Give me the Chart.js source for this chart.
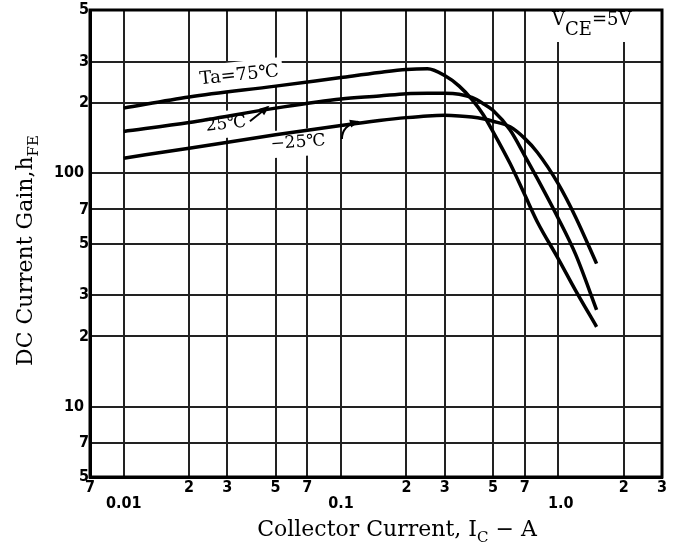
<!DOCTYPE html>
<html>
<head>
<meta charset="utf-8">
<script src="https://cdn.jsdelivr.net/npm/chart.js@4.4.1/dist/chart.umd.min.js"></script>
<style>
  html, body { margin: 0; padding: 0; background: #fff; }
  canvas { display: block; }
</style>
</head>
<body>
<canvas id="chart" width="676" height="547"></canvas>
<script>
// collector current (A) and hFE
const currentA = [0.01, 0.02, 0.05, 0.1, 0.15, 0.2, 0.25, 0.3, 0.35, 0.4, 0.45, 0.5, 0.6, 0.7, 0.8, 1.0, 1.2, 1.5];
const gain75 = [190, 212, 236, 257, 270, 278, 280, 262, 236, 207, 179, 151, 110, 81, 62, 43, 31.5, 22];
const gain25 = [151, 165, 190, 208, 214, 219, 220, 220, 218, 211, 199, 186, 153, 119, 95, 64, 45, 26];
const gainM25 = [116, 128, 146, 160, 168, 173, 176, 177, 176, 174, 171, 167, 158, 141, 123, 90, 65, 41];

const xTickValues = [0.007, 0.01, 0.02, 0.03, 0.05, 0.07, 0.1, 0.2, 0.3, 0.5, 0.7, 1, 2, 3];
const xTickLabels = ["7", ["", "0.01"], "2", "3", "5", "7", ["", "0.1"], "2", "3", "5", "7", ["", " 1.0"], "2", "3"];
const yTickValues = [5, 7, 10, 20, 30, 50, 70, 100, 200, 300, 500];
const yTickLabels = ["5", "7", "10 ", "2", "3", "5", "7", "100 ", "2", "3", "5"];

const SERIF = "'DejaVu Serif', 'Liberation Serif', serif";
const TICK_FONT = {
  family: "'DejaVu Sans Condensed', 'Liberation Sans Narrow', 'Liberation Sans', sans-serif",
  size: 16,
  weight: "bold",
  lineHeight: 1.0,
};

// curve labels, placed in data coordinates
const notes = [
  { text: "Ta=75℃", x: 0.034, y: 262, angle: -6, size: 18 },
  { text: "25℃", x: 0.0296, y: 162, angle: -6, size: 17 },
  { text: "−25℃", x: 0.0634, y: 135, angle: -4, size: 17 },
];
const arrows = [
  [[0.0381, 167], [0.0461, 192]],
  [[0.101, 140], [0.101, 160], [0.1197, 166]],
];

function drawParts(ctx, parts, x, y) {
  let cx = x;
  for (const p of parts) {
    ctx.font = p.font;
    ctx.fillText(p.t, cx, y + (p.dy || 0));
    cx += ctx.measureText(p.t).width;
  }
  return cx - x;
}

function partsWidth(ctx, parts) {
  let w = 0;
  for (const p of parts) {
    ctx.font = p.font;
    w += ctx.measureText(p.t).width;
  }
  return w;
}

const main = `22px ${SERIF}`;
const sub = `15px ${SERIF}`;
const yTitle = [{ t: "DC Current Gain,h", font: main }, { t: "FE", font: sub, dy: 6 }];
const xTitle = [{ t: "Collector Current, I", font: main }, { t: "C", font: sub, dy: 6 }, { t: " − A", font: main }];
const vceLabel = [
  { t: "V", font: `18px ${SERIF}` },
  { t: "CE", font: `18px ${SERIF}`, dy: 10 },
  { t: "=5V", font: `18px ${SERIF}` },
];

const decor = {
  id: "decor",
  beforeDatasetsDraw(chart) {
    const { ctx, chartArea: a, scales } = chart;
    ctx.save();
    ctx.fillStyle = "#fff";
    // white patches behind the labels (the grid is broken there)
    for (const n of notes) {
      const px = scales.x.getPixelForValue(n.x);
      const py = scales.y.getPixelForValue(n.y);
      ctx.font = `${n.size}px ${SERIF}`;
      const w = ctx.measureText(n.text).width;
      ctx.save();
      ctx.translate(px, py);
      ctx.rotate((n.angle * Math.PI) / 180);
      ctx.fillRect(-w / 2 - 4, -n.size / 2 - 5, w + 8, n.size + 10);
      ctx.restore();
    }
    const vx = scales.x.getPixelForValue(0.935);
    const vw = partsWidth(ctx, vceLabel);
    ctx.fillRect(vx - 5, a.top + 2, vw + 10, 30);
    ctx.restore();
  },
  afterDatasetsDraw(chart) {
    const { ctx, chartArea: a, scales } = chart;
    ctx.save();
    ctx.fillStyle = "#000";
    ctx.strokeStyle = "#000";

    // frame
    ctx.lineWidth = 3;
    ctx.strokeRect(a.left, a.top, a.right - a.left, a.bottom - a.top);

    // curve labels
    ctx.textAlign = "center";
    ctx.textBaseline = "middle";
    for (const n of notes) {
      const px = scales.x.getPixelForValue(n.x);
      const py = scales.y.getPixelForValue(n.y);
      ctx.save();
      ctx.translate(px, py);
      ctx.rotate((n.angle * Math.PI) / 180);
      ctx.font = `${n.size}px ${SERIF}`;
      ctx.fillText(n.text, 0, 0);
      ctx.restore();
    }

    // arrows from labels to curves
    ctx.lineWidth = 2;
    for (const arr of arrows) {
      const pts = arr.map(([x, y]) => [scales.x.getPixelForValue(x), scales.y.getPixelForValue(y)]);
      const end = pts[pts.length - 1];
      const from = pts[pts.length - 2];
      ctx.beginPath();
      ctx.moveTo(pts[0][0], pts[0][1]);
      if (pts.length === 3) ctx.quadraticCurveTo(pts[1][0], pts[1][1], end[0], end[1]);
      else ctx.lineTo(end[0], end[1]);
      ctx.stroke();
      const ang = Math.atan2(end[1] - from[1], end[0] - from[0]);
      ctx.beginPath();
      ctx.moveTo(end[0] + 2 * Math.cos(ang), end[1] + 2 * Math.sin(ang));
      ctx.lineTo(end[0] - 8 * Math.cos(ang) - 4 * Math.sin(ang), end[1] - 8 * Math.sin(ang) + 4 * Math.cos(ang));
      ctx.lineTo(end[0] - 8 * Math.cos(ang) + 4 * Math.sin(ang), end[1] - 8 * Math.sin(ang) - 4 * Math.cos(ang));
      ctx.closePath();
      ctx.fill();
    }

    // V_CE = 5V
    ctx.textAlign = "left";
    ctx.textBaseline = "alphabetic";
    drawParts(ctx, vceLabel, scales.x.getPixelForValue(0.935), a.top + 15);

    // axis titles
    const xw = partsWidth(ctx, xTitle);
    drawParts(ctx, xTitle, (a.left + a.right) / 2 + 21 - xw / 2, a.bottom + 59);

    const yw = partsWidth(ctx, yTitle);
    ctx.translate(32, (a.top + a.bottom) / 2 + 7);
    ctx.rotate(-Math.PI / 2);
    drawParts(ctx, yTitle, -yw / 2, 0);
    ctx.restore();
  },
};

const toPoints = (ys) => currentA.map((x, i) => ({ x, y: ys[i] }));
const curve = (label, ys) => ({
  label,
  data: toPoints(ys),
  borderColor: "#000",
  borderWidth: 3.5,
  pointRadius: 0,
  fill: false,
  cubicInterpolationMode: "monotone",
});

new Chart(document.getElementById("chart"), {
  type: "line",
  data: {
    datasets: [
      curve("Ta=75℃", gain75),
      curve("25℃", gain25),
      curve("−25℃", gainM25),
    ],
  },
  options: {
    responsive: false,
    animation: false,
    layout: { padding: { top: 10, right: 14, left: 0, bottom: 0 } },
    plugins: { legend: { display: false }, tooltip: { enabled: false } },
    scales: {
      x: {
        type: "logarithmic",
        min: 0.007,
        max: 3,
        afterBuildTicks: (s) => { s.ticks = xTickValues.map((v) => ({ value: v })); },
        afterFit: (s) => { s.height = 70; },
        grid: { color: "#222", lineWidth: 2, drawTicks: false },
        border: { color: "#000", width: 3 },
        ticks: {
          autoSkip: false,
          maxRotation: 0,
          padding: 3,
          color: "#000",
          font: TICK_FONT,
          callback: (v, i) => xTickLabels[i],
        },
      },
      y: {
        type: "logarithmic",
        min: 5,
        max: 500,
        afterBuildTicks: (s) => { s.ticks = yTickValues.map((v) => ({ value: v })); },
        afterFit: (s) => { s.width = 90; },
        grid: { color: "#222", lineWidth: 2, drawTicks: false },
        border: { color: "#000", width: 3 },
        ticks: {
          autoSkip: false,
          padding: 1,
          color: "#000",
          font: TICK_FONT,
          callback: (v, i) => yTickLabels[i],
        },
      },
    },
  },
  plugins: [decor],
});
</script>
</body>
</html>
